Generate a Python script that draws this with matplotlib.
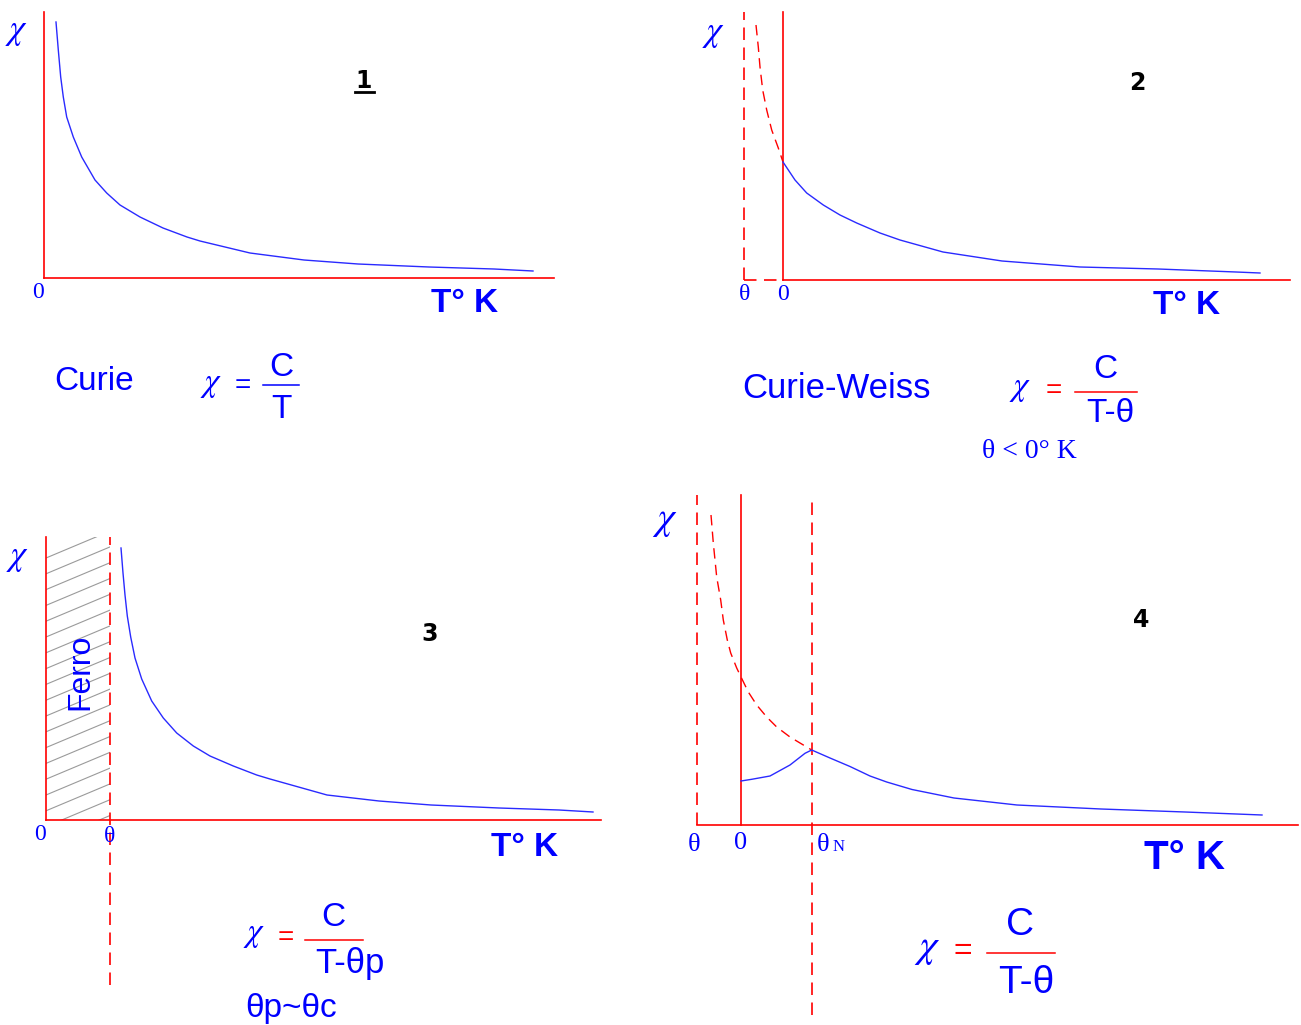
import matplotlib
matplotlib.use('Agg')
import matplotlib.pyplot as plt
import numpy as np

plt.rcParams['mathtext.fontset'] = 'stix'

W, H = 1301, 1025
BLUE = '#0000ff'
CURVE = '#2a2aff'
RED = '#ff0000'
HATCH = '#9a9a9a'
SANS = 'Liberation Sans'
SERIF = 'Liberation Serif'
DASH = (0, (7.5, 4.5))
CHI = r'$\chi$'

# 1 - Curie law: chi = C/T
t1 = [12, 14.3, 16.7, 19.3, 22.7, 29.3, 37.7, 51, 62.7, 76, 96, 119, 143, 156,
      206, 260, 314, 385, 450, 489]
chi1 = [256, 228, 201, 181, 161, 141, 121, 98, 85, 73, 61, 50, 41, 37,
        25, 18, 14, 11, 9, 7]

# 2 - Curie-Weiss, theta < 0 (dashed part lies below T = 0)
theta2 = -39
t2_ext = [-27, -24.7, -23, -20.3, -16.3, -11.3, -4.7, 0]
chi2_ext = [255, 233, 213, 190, 170, 150, 132, 118]
t2 = [0, 12, 23.7, 40.3, 57, 73.7, 97, 117, 160, 219, 297, 375, 453, 477]
chi2 = [118, 100, 87, 75, 65, 57, 47, 40, 28, 19, 13, 11, 8, 7]

# 3 - ferromagnet above theta_p
theta3 = 64
t3 = [75, 77, 79, 81.3, 84.7, 89, 95.7, 105.7, 117.3, 130.7, 147.3, 164, 187.3,
      210.7, 224, 281, 333, 385, 453, 513, 547]
chi3 = [272, 247, 225, 204, 183, 162, 141, 119, 102, 87, 74, 64, 54,
        45, 41, 25, 19, 15, 12, 10, 8]

# 4 - antiferromagnet, Neel point theta_N
theta4 = -44
theta_n = 70.7
t4_ext = [-30, -27.7, -24.3, -20.3, -17.7, -13.7, -10.3, -4.3, 0, 7.3, 15.7,
          25.7, 35.7, 49, 59, 70.7]
chi4_ext = [310, 282, 248, 225, 205, 185, 172, 157, 148, 133, 120,
            108, 98, 88, 82, 75]
t4 = [0, 10.7, 29, 49, 64, 70.7, 89, 109, 129, 145.7, 171, 213, 276, 360, 444, 521]
chi4 = [44, 45.7, 49, 60, 71.7, 75, 67, 58.5, 49, 43, 35.5, 27, 20, 16, 13, 10]

fig = plt.figure(figsize=(W / 100, H / 100), dpi=100)


def panel(px0, py0, px1, py1, ox, oy):
    # axes in pixel-sized units with (0, 0) at the T/chi origin
    ax = fig.add_axes([px0 / W, 1 - py1 / H, (px1 - px0) / W, (py1 - py0) / H])
    ax.set_xlim(px0 - ox, px1 - ox)
    ax.set_ylim(oy - py1, oy - py0)
    ax.axis('off')
    return ax


def txt(ax, x, y, s, size, family=SANS, color=BLUE, **kw):
    ax.text(x, y, s, fontsize=size, family=family, color=color,
            ha='center', va='center', **kw)


def hbar(ax, x0, x1, y, color):
    ax.plot([x0, x1], [y, y], color=color, lw=1.1)


# ---- panel 1
ax1 = panel(0, 0, 650, 480, 44, 278)
ax1.plot([0, 510], [0, 0], color=RED, lw=1.2)
ax1.plot([0, 0], [0, 266], color=RED, lw=1.2)
ax1.plot(t1, chi1, color=CURVE, lw=1.0)
txt(ax1, -27, 246, CHI, 25)
txt(ax1, -6, -15, '0', 17, SERIF)
txt(ax1, 421, -26, 'T° K', 24, weight='bold')
txt(ax1, 320, 197, '1', 17, 'DejaVu Sans', 'black', weight='heavy')
ax1.plot([311, 330], [186, 186], color='black', lw=2)
txt(ax1, 50, -103, 'Curie', 24)
txt(ax1, 167, -106, CHI, 24)
txt(ax1, 199, -108, '=', 20)
hbar(ax1, 219, 255, -107, BLUE)
txt(ax1, 237, -89, 'C', 24)
txt(ax1, 237, -132, 'T', 24)

# ---- panel 2
ax2 = panel(650, 0, 1301, 480, 783, 280)
ax2.plot([0, 507], [0, 0], color=RED, lw=1.2)
ax2.plot([0, 0], [0, 268], color=RED, lw=1.2)
ax2.plot([theta2, 0], [0, 0], color=RED, lw=1.2, ls=DASH)
ax2.plot([theta2, theta2], [0, 268], color=RED, lw=1.2, ls=DASH)
ax2.plot(t2_ext, chi2_ext, color=RED, lw=1.0, ls=DASH)
ax2.plot(t2, chi2, color=CURVE, lw=1.0)
txt(ax2, -69, 246, CHI, 25)
txt(ax2, theta2 + 1, -15, 'θ', 17, SERIF)
txt(ax2, 0, -14, '0', 17, SERIF)
txt(ax2, 404, -26, 'T° K', 24, weight='bold')
txt(ax2, 354, 197, '2', 17, 'DejaVu Sans', 'black', weight='heavy')
txt(ax2, 53, -108, 'Curie-Weiss', 25)
txt(ax2, 237, -109, CHI, 24)
txt(ax2, 271, -111, '=', 20, color=RED)
hbar(ax2, 292, 354, -112, RED)
txt(ax2, 322, -90, 'C', 24)
txt(ax2, 327, -134, 'T-θ', 24)
txt(ax2, 246, -172, 'θ < 0° K', 20, SERIF)

# ---- panel 3
ax3 = panel(0, 480, 650, 1025, 46, 820)
# hatched ferromagnetic region between 0 and theta
clip = plt.Rectangle((0, 0), theta3, 283, transform=ax3.transData, fill=False, lw=0)
ax3.add_patch(clip)
for c in np.arange(262, -30, -15.8):
    hl, = ax3.plot([0, theta3], [c, c + 0.42 * theta3], color=HATCH, lw=0.8)
    hl.set_clip_path(clip)
ax3.plot([0, 555], [0, 0], color=RED, lw=1.2)
ax3.plot([0, 0], [0, 283], color=RED, lw=1.2)
ax3.plot([theta3, theta3], [-165, 283], color=RED, lw=1.2, ls=DASH)
ax3.plot(t3, chi3, color=CURVE, lw=1.0)
txt(ax3, -28, 262, CHI, 25)
txt(ax3, -6, -15, '0', 17, SERIF)
txt(ax3, theta3, -16, 'θ', 17, SERIF)
txt(ax3, 479, -27, 'T° K', 24, weight='bold')
txt(ax3, 384, 186, '3', 17, 'DejaVu Sans', 'black', weight='heavy')
txt(ax3, 34, 148, 'Ferro', 23, rotation=90)
txt(ax3, 208, -115, CHI, 24)
txt(ax3, 240, -118, '=', 20, color=RED)
hbar(ax3, 259, 317, -120, RED)
txt(ax3, 287, -97, 'C', 24)
txt(ax3, 304, -144, 'T-θp', 25)
txt(ax3, 245, -189, 'θp~θc', 24)

# ---- panel 4
ax4 = panel(650, 480, 1301, 1025, 741, 825)
ax4.plot([theta4, 557], [0, 0], color=RED, lw=1.2)
ax4.plot([0, 0], [0, 330], color=RED, lw=1.2)
ax4.plot([theta4, theta4], [0, 330], color=RED, lw=1.2, ls=DASH)
ax4.plot([theta_n, theta_n], [-190, 325], color=RED, lw=1.2, ls=DASH)
ax4.plot(t4_ext, chi4_ext, color=RED, lw=1.0, ls=DASH)
ax4.plot(t4, chi4, color=CURVE, lw=1.0)
txt(ax4, -76, 304, CHI, 28)
txt(ax4, theta4 - 3, -20, 'θ', 19, SERIF)
txt(ax4, 0, -18, '0', 19, SERIF)
txt(ax4, theta_n + 11, -20, 'θ', 19, SERIF)
txt(ax4, theta_n + 27, -22, 'N', 12, SERIF)
txt(ax4, 444, -33, 'T° K', 29, weight='bold')
txt(ax4, 400, 205, '4', 17, 'DejaVu Sans', 'black', weight='heavy')
txt(ax4, 186, -123, CHI, 29)
txt(ax4, 222, -126, '=', 23, color=RED)
hbar(ax4, 246, 314, -128, RED)
txt(ax4, 279, -100, 'C', 28)
txt(ax4, 285, -158, 'T-θ', 28)

fig.savefig('out.png', dpi=100, facecolor='white')
